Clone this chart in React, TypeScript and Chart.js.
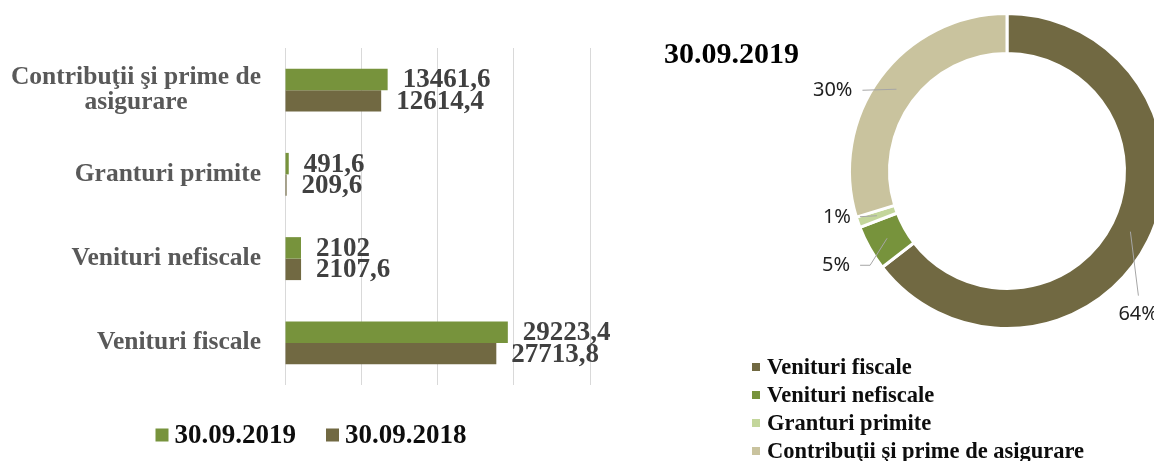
import React, { useEffect, useRef } from "react";
import { Chart, registerables } from "chart.js";

Chart.register(...registerables);

// ---------- DATA ----------
const categories: (string | string[])[] = [
  ["Contribuţii şi prime de", "asigurare"],
  "Granturi primite",
  "Venituri nefiscale",
  "Venituri fiscale",
];
const seriesLabels = ["30.09.2019", "30.09.2018"];
const values2019 = [13461.6, 491.6, 2102, 29223.4];
const values2018 = [12614.4, 209.6, 2107.6, 27713.8];
const axisMax = 40000;
const axisStep = 10000;

const donutTitle = "30.09.2019";
const donutCategories = [
  "Venituri fiscale",
  "Venituri nefiscale",
  "Granturi primite",
  "Contribuţii şi prime de asigurare",
];
const donutValues = [29223.4, 2102, 491.6, 13461.6];
const donutShareLabels = ["64%", "5%", "1%", "30%"];

// ---------- STYLE ----------
const GREEN = "#77933C";
const BROWN = "#716942";
const LIGHT_GREEN = "#C3D69B";
const BEIGE = "#C9C39E";
const SERIF = '"Liberation Serif", "DejaVu Serif", serif';
const SANS = '"Noto Sans", "Open Sans", sans-serif';

const LEFT_W = 622;
const RIGHT_X = 640;
const RIGHT_W = 540;
const H = 461;

// label placement for doughnut (offsets from the arc anchor)
const donutLabelStyle = [
  { dx: -12, dy: 83, align: "left", line: [[0, 0], [8, 64]] },
  { dx: -37, dy: 27, align: "right", line: [[0, 0], [-17, 27], [-27, 27]] },
  { dx: -26, dy: 2, align: "right", line: [[0, 0], [-17, 1]] },
  { dx: -44, dy: 1, align: "right", line: [[0, 0], [-34, 1]] },
];

const fmt = (v: number) => String(v).replace(".", ",");

const barTextPlugin = {
  id: "barText",
  afterDraw(chart: any) {
    const ctx = chart.ctx as CanvasRenderingContext2D;
    const area = chart.chartArea;
    const yScale = chart.scales.y;
    ctx.save();
    // category labels
    ctx.font = `bold 25.5px ${SERIF}`;
    ctx.fillStyle = "#595959";
    ctx.textBaseline = "middle";
    const right = area.left - 24;
    categories.forEach((c, i) => {
      const py = yScale.getPixelForValue(i);
      const lines = Array.isArray(c) ? c : [c];
      const widest = Math.max(...lines.map((l) => ctx.measureText(l).width));
      const lh = 25;
      lines.forEach((l, k) => {
        const ly = py + (k - (lines.length - 1) / 2) * lh;
        if (lines.length > 1) {
          ctx.textAlign = "center";
          ctx.fillText(l, right - widest / 2, ly);
        } else {
          ctx.textAlign = "right";
          ctx.fillText(l, right, ly);
        }
      });
    });
    // value labels
    ctx.font = `bold 27px ${SERIF}`;
    ctx.fillStyle = "#404040";
    ctx.textAlign = "left";
    chart.data.datasets.forEach((ds: any, d: number) => {
      const meta = chart.getDatasetMeta(d);
      meta.data.forEach((bar: any, i: number) => {
        ctx.fillText(fmt(ds.data[i]), bar.x + 15, bar.y + 1);
      });
    });
    // legend
    ctx.font = `bold 27px ${SERIF}`;
    const sq = 13;
    const gap = 6;
    const itemGap = 30;
    const widths = seriesLabels.map((s) => ctx.measureText(s).width);
    const total = widths.reduce((a, w) => a + sq + gap + w, 0) + itemGap * (seriesLabels.length - 1);
    let x = chart.width / 2 - total / 2;
    const ly = 435;
    chart.data.datasets.forEach((ds: any, d: number) => {
      ctx.fillStyle = ds.backgroundColor;
      ctx.fillRect(x, ly - sq / 2, sq, sq);
      x += sq + gap;
      ctx.fillStyle = "#0D0D0D";
      ctx.fillText(seriesLabels[d], x, ly + 1);
      x += widths[d] + itemGap;
    });
    ctx.restore();
  },
};

const donutTextPlugin = {
  id: "donutText",
  afterDraw(chart: any) {
    const ctx = chart.ctx as CanvasRenderingContext2D;
    ctx.save();
    // title
    ctx.font = `bold 30px ${SERIF}`;
    ctx.fillStyle = "#000";
    ctx.textAlign = "left";
    ctx.textBaseline = "middle";
    ctx.fillText(donutTitle, 24, 55);
    // share labels
    const meta = chart.getDatasetMeta(0);
    ctx.font = `20px ${SANS}`;
    meta.data.forEach((arc: any, i: number) => {
      const p = arc.getProps(["x", "y", "startAngle", "endAngle", "innerRadius", "outerRadius"], true);
      const mid = (p.startAngle + p.endAngle) / 2;
      const r = (p.innerRadius + p.outerRadius) / 2;
      const ax = p.x + r * Math.cos(mid);
      const ay = p.y + r * Math.sin(mid);
      const st = donutLabelStyle[i];
      ctx.strokeStyle = "#A6A6A6";
      ctx.lineWidth = 1;
      ctx.beginPath();
      st.line.forEach(([lx, ly], k) => {
        if (k === 0) ctx.moveTo(ax + lx, ay + ly);
        else ctx.lineTo(ax + lx, ay + ly);
      });
      ctx.stroke();
      ctx.fillStyle = "#1F1F1F";
      ctx.textAlign = st.align as CanvasTextAlign;
      ctx.fillText(donutShareLabels[i], ax + st.dx, ay + st.dy);
    });
    // legend
    ctx.font = `bold 22.5px ${SERIF}`;
    const colors = chart.data.datasets[0].backgroundColor;
    donutCategories.forEach((c, i) => {
      const y = 367 + i * 28;
      ctx.fillStyle = colors[i];
      ctx.fillRect(112, y - 4, 8, 8);
      ctx.fillStyle = "#0D0D0D";
      ctx.textAlign = "left";
      ctx.fillText(c, 127, y + 1);
    });
    ctx.restore();
  },
};

export default function App() {
  const leftRef = useRef<HTMLCanvasElement | null>(null);
  const rightRef = useRef<HTMLCanvasElement | null>(null);

  useEffect(() => {
    const bar = new Chart(leftRef.current as HTMLCanvasElement, {
      type: "bar",
      data: {
        labels: categories as any,
        datasets: [
          {
            label: seriesLabels[0],
            data: values2019,
            backgroundColor: GREEN,
            categoryPercentage: 0.51,
            barPercentage: 1,
          },
          {
            label: seriesLabels[1],
            data: values2018,
            backgroundColor: BROWN,
            categoryPercentage: 0.51,
            barPercentage: 1,
          },
        ],
      },
      options: {
        indexAxis: "y",
        responsive: false,
        animation: false,
        layout: { padding: { left: 0, right: 32, top: 48, bottom: 76 } },
        plugins: { legend: { display: false }, tooltip: { enabled: false } },
        scales: {
          x: {
            min: 0,
            max: axisMax,
            ticks: { display: false, stepSize: axisStep },
            grid: { color: "#D9D9D9", drawTicks: false, lineWidth: 1 },
            border: { display: false },
            afterFit: (s: any) => {
              s.height = 0;
            },
          },
          y: {
            ticks: { display: false },
            grid: { display: false },
            border: { display: false },
            afterFit: (s: any) => {
              s.width = 285;
            },
          },
        },
      } as any,
      plugins: [barTextPlugin],
    });

    const donut = new Chart(rightRef.current as HTMLCanvasElement, {
      type: "doughnut",
      data: {
        labels: donutCategories,
        datasets: [
          {
            data: donutValues,
            backgroundColor: [BROWN, GREEN, LIGHT_GREEN, BEIGE],
            borderColor: "#FFFFFF",
            borderWidth: 3,
          },
        ],
      },
      options: {
        responsive: false,
        animation: false,
        cutout: "74.6%",
        layout: { padding: { left: 208, right: 14, top: 12, bottom: 131 } },
        plugins: { legend: { display: false }, tooltip: { enabled: false } },
      } as any,
      plugins: [donutTextPlugin],
    });

    return () => {
      bar.destroy();
      donut.destroy();
    };
  }, []);

  return (
    <div
      style={{
        position: "fixed",
        left: 0,
        top: 0,
        width: 1154,
        height: H,
        overflow: "hidden",
        background: "#FFFFFF",
      }}
    >
      <canvas
        ref={leftRef}
        width={LEFT_W}
        height={H}
        style={{ position: "absolute", left: 0, top: 0, width: LEFT_W, height: H }}
      />
      <canvas
        ref={rightRef}
        width={RIGHT_W}
        height={H}
        style={{ position: "absolute", left: RIGHT_X, top: 0, width: RIGHT_W, height: H }}
      />
    </div>
  );
}
